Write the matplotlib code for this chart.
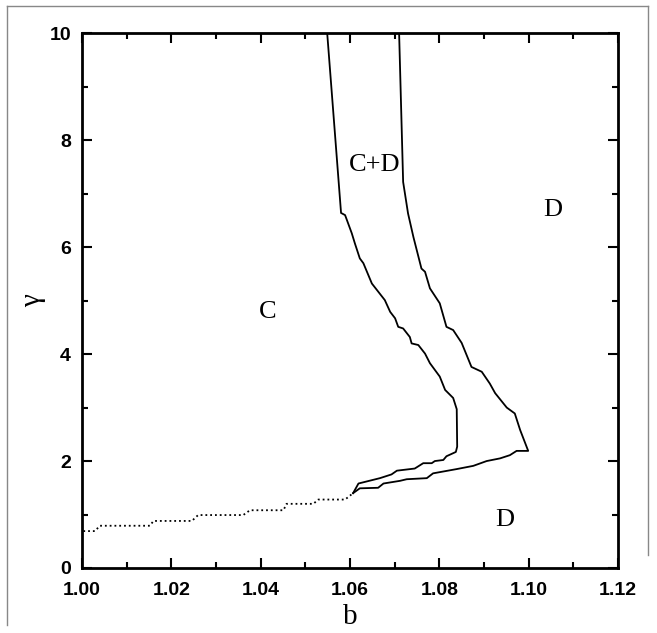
import matplotlib.pyplot as plt
from matplotlib.lines import Line2D
from matplotlib.ticker import MultipleLocator

plt.rcParams['font.family'] = 'sans-serif'
plt.rcParams['font.sans-serif'] = ['Liberation Sans', 'DejaVu Sans']

# left boundary of the C+D region (top to bottom, then the lower staircase)
left_b = [1.0549, 1.0580, 1.0589, 1.0593, 1.0604, 1.0611, 1.0622, 1.0630, 1.0649,
          1.0678, 1.0690, 1.0701, 1.0708, 1.0719, 1.0734, 1.0738, 1.0753, 1.0768,
          1.0779, 1.0801, 1.0813, 1.0831, 1.0839, 1.0840, 1.0837,
          1.0816, 1.0809, 1.0790, 1.0783, 1.0764, 1.0745, 1.0705, 1.0693, 1.0667,
          1.0619, 1.0607]
left_g = [10.0, 6.64, 6.60, 6.51, 6.26, 6.07, 5.79, 5.70, 5.32,
          5.01, 4.79, 4.67, 4.51, 4.48, 4.32, 4.20, 4.17, 4.01,
          3.83, 3.58, 3.33, 3.18, 2.97, 2.27, 2.17,
          2.09, 2.02, 2.00, 1.96, 1.96, 1.86, 1.82, 1.75, 1.68,
          1.58, 1.40]

# right boundary of the C+D region
right_b = [1.0710, 1.0719, 1.0730, 1.0742, 1.0760, 1.0768, 1.0779, 1.0801, 1.0816,
           1.0831, 1.0850, 1.0872, 1.0895, 1.0913, 1.0925, 1.0951, 1.0969, 1.0981,
           1.0999,
           1.0973, 1.0958, 1.0936, 1.0906, 1.0876, 1.0839, 1.0786, 1.0772, 1.0727,
           1.0712, 1.0675, 1.0663, 1.0622, 1.0607]
right_g = [10.0, 7.22, 6.63, 6.19, 5.60, 5.54, 5.23, 4.95, 4.51,
           4.45, 4.21, 3.76, 3.67, 3.45, 3.27, 3.00, 2.89, 2.58,
           2.19,
           2.19, 2.11, 2.05, 2.00, 1.91, 1.85, 1.77, 1.68, 1.66,
           1.63, 1.58, 1.50, 1.49, 1.40]

# dotted C / D boundary at small b
dot_b = [1.0003, 1.0029, 1.0040, 1.0152, 1.0160, 1.0246, 1.0260, 1.0361, 1.0376,
         1.0451, 1.0458, 1.0518, 1.0529, 1.0589, 1.0607]
dot_g = [0.69, 0.69, 0.79, 0.79, 0.88, 0.88, 0.99, 0.99, 1.08,
         1.08, 1.20, 1.20, 1.28, 1.28, 1.40]

region_labels = ['C+D', 'D', 'C', 'D']
region_b = [1.0656, 1.1054, 1.0416, 1.0947]
region_g = [7.53, 6.69, 4.79, 0.90]

fig = plt.figure(figsize=(6.57, 6.33), dpi=100)
ax = fig.add_axes([0.1248, 0.1027, 0.8158, 0.8447])

ax.plot(left_b, left_g, color='black', lw=1.3)
ax.plot(right_b, right_g, color='black', lw=1.3)
ax.plot(dot_b, dot_g, color='black', lw=1.3, linestyle=':')

for lab, xb, yg in zip(region_labels, region_b, region_g):
    ax.text(xb, yg, lab, ha='center', va='center', fontsize=19,
            family='Liberation Serif')

ax.set_xlim(1.00, 1.12)
ax.set_ylim(0, 10)
ax.xaxis.set_major_locator(MultipleLocator(0.02))
ax.xaxis.set_minor_locator(MultipleLocator(0.01))
ax.yaxis.set_major_locator(MultipleLocator(2))
ax.yaxis.set_minor_locator(MultipleLocator(1))
ax.set_xticklabels([f'{v:.2f}' for v in ax.get_xticks()])

ax.tick_params(which='both', direction='in', top=True, right=True, width=1.5)
ax.tick_params(which='major', length=7, labelsize=14)
ax.tick_params(axis='x', which='major', pad=10)
ax.tick_params(axis='y', which='major', pad=8)
ax.tick_params(which='minor', length=4)
for lbl in ax.get_xticklabels() + ax.get_yticklabels():
    lbl.set_fontweight('bold')
for sp in ax.spines.values():
    sp.set_linewidth(2)

ax.set_xlabel('b', fontsize=21, family='Liberation Serif', labelpad=4)
ax.set_ylabel('γ', fontsize=21, family='Liberation Serif', labelpad=2, rotation=90)

# thin grey frame around the picture
fig.add_artist(Line2D([0.0107, 0.9863], [0.9905, 0.9905], color='#888888', lw=1))
fig.add_artist(Line2D([0.0107, 0.0107], [0.9905, 0.013], color='#888888', lw=1))
fig.add_artist(Line2D([0.9863, 0.9863], [0.9905, 0.123], color='#888888', lw=1))

plt.savefig('out.png', dpi=100)
